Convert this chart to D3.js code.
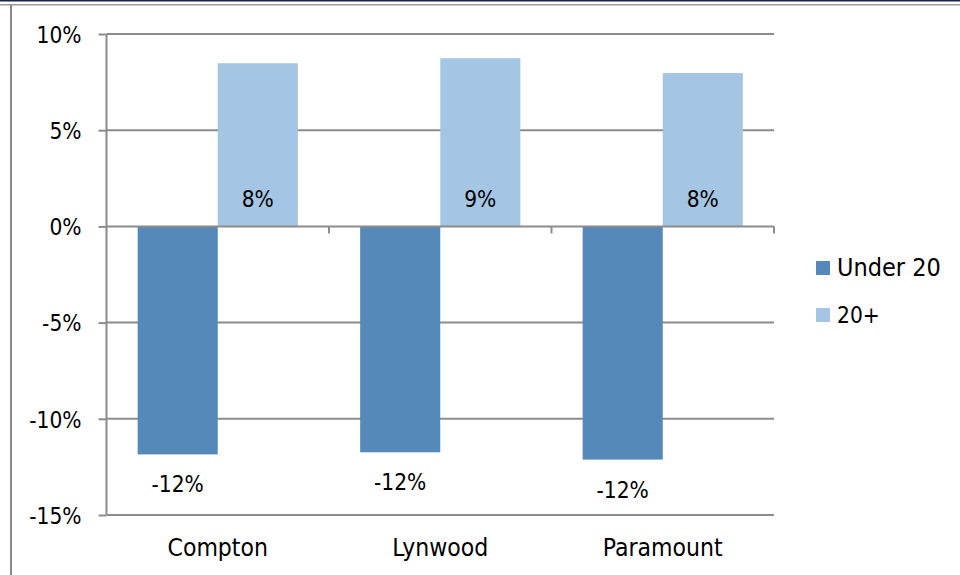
<!DOCTYPE html>
<html>
<head>
<meta charset="utf-8">
<script src="https://cdn.jsdelivr.net/npm/d3@7"></script>
<style>
  html, body { margin: 0; padding: 0; background: #fff; }
  svg { display: block; }
  text { font-family: "DejaVu Sans Condensed", "DejaVu Sans", sans-serif; font-stretch: condensed; fill: #000; }
</style>
</head>
<body>
<svg id="chart" width="960" height="575"></svg>
<script>
// ---- data ----
const categories = ["Compton", "Lynwood", "Paramount"];
const seriesNames = ["Under 20", "20+"];
const under20 = [-11.85, -11.74, -12.12];
const over20 = [8.48, 8.74, 7.97];
const yTicks = [-15, -10, -5, 0, 5, 10];
const colors = ["#5589BA", "#A4C5E3"];

const svg = d3.select("#chart");
const W = 960, H = 575;

// frame
svg.append("rect").attr("x", 0).attr("y", 0).attr("width", W).attr("height", 1.5).attr("fill", "#1d2444");
svg.append("rect").attr("x", 0).attr("y", 4).attr("width", W).attr("height", 1.5).attr("fill", "#9a9a9a");
svg.append("rect").attr("x", 10).attr("y", 5).attr("width", 2).attr("height", H - 5).attr("fill", "#8c8c8c");

const plot = { left: 106.5, right: 774, top: 34, bottom: 515 };

const y = d3.scaleLinear().domain([-15, 10]).range([plot.bottom, plot.top]);
const x = d3.scaleBand().domain(categories).range([plot.left, plot.right]).padding(0);
const bw = x.bandwidth();
const outer = bw * 0.14;
const barW = (bw - 2 * outer) / 2;

const gridColor = "#8c8c8c";

// gridlines + y ticks
const yAxis = d3.axisLeft(y).tickValues(yTicks).tickSize(8).tickFormat(d => d + "%");
const gy = svg.append("g").attr("transform", `translate(${plot.left},0)`).call(yAxis);
gy.select(".domain").remove();
gy.selectAll(".tick line").attr("stroke", gridColor).attr("stroke-width", 2);
gy.selectAll(".tick text").attr("x", -25).attr("dy", "0.37em").style("font-size", "22.5px").attr("fill", "#000");

svg.append("g").selectAll("line").data(yTicks.filter(d => d !== 0)).join("line")
  .attr("x1", plot.left).attr("x2", plot.right)
  .attr("y1", d => y(d)).attr("y2", d => y(d))
  .attr("stroke", gridColor).attr("stroke-width", 2);

// bars
const series = [under20, over20];
series.forEach((vals, si) => {
  svg.append("g").selectAll("rect").data(vals).join("rect")
    .attr("x", (d, i) => x(categories[i]) + outer + si * barW)
    .attr("width", barW)
    .attr("y", d => Math.min(y(d), y(0)))
    .attr("height", d => Math.abs(y(d) - y(0)))
    .attr("fill", colors[si]);
});

// y axis line
svg.append("line").attr("x1", plot.left).attr("x2", plot.left)
  .attr("y1", plot.top).attr("y2", plot.bottom)
  .attr("stroke", gridColor).attr("stroke-width", 2);

// zero axis with category ticks
const xAxis = d3.axisBottom(x).tickSize(0).tickFormat("");
const gx = svg.append("g").attr("transform", `translate(0,${y(0)})`).call(xAxis);
gx.select(".domain").attr("stroke", gridColor).attr("stroke-width", 2).attr("d", `M${plot.left},0H${plot.right}`);
gx.selectAll(".tick").remove();
const boundaries = categories.map(c => x(c) + bw);
svg.append("g").selectAll("line").data(boundaries).join("line")
  .attr("x1", d => d).attr("x2", d => d)
  .attr("y1", y(0)).attr("y2", y(0) + 7)
  .attr("stroke", gridColor).attr("stroke-width", 2);

// category labels
svg.append("g").selectAll("text").data(categories).join("text")
  .attr("x", d => x(d) + bw / 2)
  .attr("y", 556)
  .attr("text-anchor", "middle")
  .style("font-size", "24.5px")
  .text(d => d);

// data labels
svg.append("g").selectAll("text").data(under20).join("text")
  .attr("x", (d, i) => x(categories[i]) + outer + barW / 2)
  .attr("y", d => y(d) + 38)
  .attr("text-anchor", "middle")
  .style("font-size", "22.5px")
  .text(d => Math.round(d) + "%");
svg.append("g").selectAll("text").data(over20).join("text")
  .attr("x", (d, i) => x(categories[i]) + outer + barW * 1.5)
  .attr("y", y(0) - 19.5)
  .attr("text-anchor", "middle")
  .style("font-size", "22.5px")
  .text(d => Math.round(d) + "%");

// legend
const legend = svg.append("g").attr("transform", "translate(816,261)");
seriesNames.forEach((name, i) => {
  const g = legend.append("g").attr("transform", `translate(0,${i * 47})`);
  g.append("rect").attr("width", 14).attr("height", 14).attr("fill", colors[i]);
  g.append("text").attr("x", 21).attr("y", 15)
    .style("font-size", i === 0 ? "25px" : "22.5px").text(name);
});
</script>
</body>
</html>
